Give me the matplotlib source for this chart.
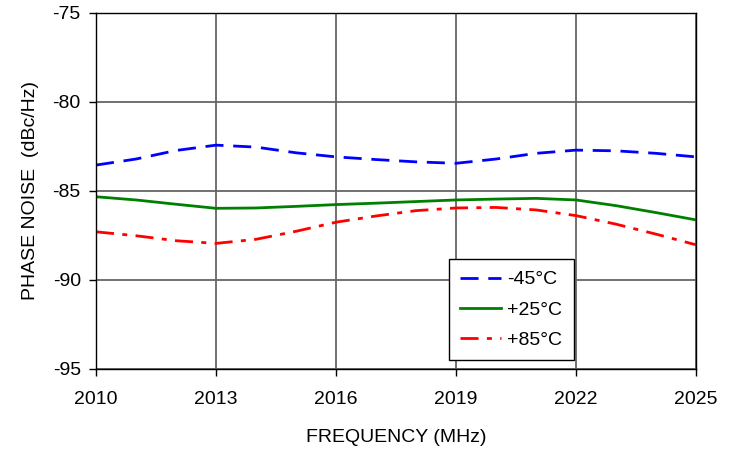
import matplotlib
matplotlib.use("Agg")
import matplotlib.pyplot as plt

# === Data ===
freq = [2010, 2011, 2012, 2013, 2014, 2015, 2016, 2017,
        2018, 2019, 2020, 2021, 2022, 2023, 2024, 2025]
pn_m45 = [-83.56, -83.22, -82.74, -82.44, -82.55, -82.87, -83.10, -83.25,
          -83.38, -83.46, -83.22, -82.90, -82.72, -82.76, -82.90, -83.10]
pn_p25 = [-85.34, -85.52, -85.76, -85.99, -85.97, -85.88, -85.78, -85.70,
          -85.61, -85.52, -85.47, -85.43, -85.52, -85.84, -86.23, -86.64]
pn_p85 = [-87.31, -87.53, -87.81, -87.96, -87.73, -87.28, -86.77, -86.42,
          -86.12, -85.97, -85.94, -86.08, -86.40, -86.88, -87.44, -88.04]
xticks = [2010, 2013, 2016, 2019, 2022, 2025]
yticks = [-95, -90, -85, -80, -75]

plt.rcParams["font.family"] = ["Liberation Sans", "DejaVu Sans"]
plt.rcParams["axes.unicode_minus"] = False

fig = plt.figure(figsize=(7.37, 4.51), dpi=100)
ax = fig.add_axes([0.1303, 0.1825, 0.8141, 0.7893])

ax.plot(freq, pn_m45, color="#0000ff", lw=2.0, dashes=(6.5, 3.5), label="-45°C")
ax.plot(freq, pn_p25, color="#008000", lw=2.0, label="+25°C")
ax.plot(freq, pn_p85, color="#ff0000", lw=2.0, dashes=(6.5, 3, 1.8, 3), label="+85°C")

ax.set_xlim(2010, 2025)
ax.set_ylim(-95, -75)
ax.set_xticks(xticks)
ax.set_yticks(yticks)
ax.grid(True, color="#666666", lw=1.3)
ax.set_axisbelow(True)
for s in ax.spines.values():
    s.set_color("black")
    s.set_linewidth(1.0)
ax.tick_params(direction="out", length=5, width=1, labelsize=14)
ax.tick_params(axis="x", pad=11)
ax.tick_params(axis="y", pad=6)

ax.set_xlabel("FREQUENCY (MHz)", fontsize=14, labelpad=15)
ax.set_ylabel("PHASE NOISE  (dBc/Hz)", fontsize=14, labelpad=10)

leg = ax.legend(loc="upper left", bbox_to_anchor=(0.588, 0.308),
                borderaxespad=0, fontsize=14, fancybox=False, framealpha=1,
                edgecolor="black", handlelength=2.1, handletextpad=0.3,
                labelspacing=0.65, borderpad=0.6)
leg.get_frame().set_linewidth(1.0)

plt.savefig("out.png", dpi=100)
